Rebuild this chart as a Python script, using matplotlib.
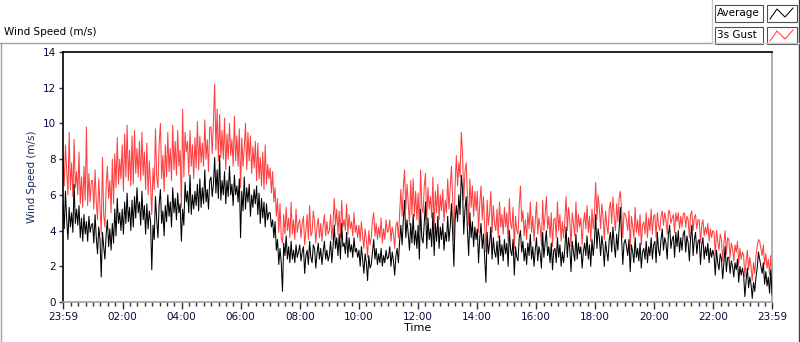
"""
Wind speed over one day: average and 3 s gust (LabVIEW style chart)
Output: out.png (800x342)
"""

import numpy as np
import matplotlib
matplotlib.use("Agg")
import matplotlib.pyplot as plt
import matplotlib.patches as patches
from matplotlib.lines import Line2D

# --- 1. DATA (m/s, one value every 2.5 minutes, 24 per hour) ---
average = [
    5.6, 4.1, 6.2, 4.6, 3.5, 5.3, 4.2, 5.0, 3.9, 6.6, 4.4, 5.2,
    4.3, 5.4, 3.6, 4.7, 3.4, 4.9, 3.8, 4.5, 3.4, 4.8, 3.9, 4.3,
    4.4, 3.3, 4.9, 3.6, 2.7, 4.2, 3.5, 1.4, 3.9, 3.1, 2.4, 3.8,
    4.6, 3.1, 4.1, 2.9, 4.4, 3.3, 5.2, 3.7, 5.8, 4.4, 5.0, 4.0,
    5.2, 3.8, 5.6, 4.4, 6.1, 4.5, 5.3, 4.0, 5.7, 4.2, 5.9, 4.7,
    6.4, 5.0, 5.6, 4.3, 6.2, 4.6, 5.4, 3.8, 5.5, 4.1, 5.1, 4.5,
    1.8, 4.3, 3.5, 5.9, 4.6, 3.6, 5.5, 6.3, 4.4, 5.1, 3.7, 5.4,
    4.5, 6.0, 4.8, 5.6, 4.2, 6.4, 5.0, 5.8, 4.6, 6.1, 5.0, 5.5,
    3.4, 5.2, 4.3, 6.7, 5.6, 6.2, 5.0, 7.1, 4.9, 6.0, 5.2, 6.2,
    5.4, 6.6, 5.1, 6.9, 5.3, 6.4, 5.5, 7.4, 5.6, 6.3, 5.2, 6.8,
    7.0, 5.9, 6.6, 8.1, 6.1, 7.4, 5.8, 8.2, 5.7, 6.8, 6.0, 7.3,
    5.5, 6.8, 5.9, 7.6, 6.0, 6.6, 5.4, 7.1, 6.0, 6.5, 5.6, 6.9,
    3.6, 6.2, 5.1, 7.0, 5.2, 6.4, 5.6, 6.6, 4.8, 6.0, 5.3, 6.3,
    5.5, 6.5, 4.9, 6.1, 4.4, 5.8, 4.7, 5.6, 4.2, 5.5, 4.6, 5.0,
    5.0, 4.2, 4.6, 3.6, 4.5, 2.9, 3.5, 2.1, 3.0, 2.2, 0.6, 3.3,
    2.6, 3.7, 2.4, 3.1, 2.2, 3.4, 2.4, 2.9, 2.2, 3.2, 2.5, 2.8,
    3.2, 2.3, 2.8, 3.1, 1.6, 2.6, 2.9, 2.1, 3.4, 2.5, 2.2, 3.2,
    3.0, 1.9, 2.7, 3.3, 2.4, 3.0, 2.1, 2.8, 3.4, 2.4, 2.9, 2.3,
    2.6, 3.4, 2.2, 3.1, 4.3, 3.0, 3.6, 2.6, 3.8, 2.4, 4.4, 3.1,
    3.3, 2.7, 3.9, 2.5, 3.6, 2.8, 3.2, 2.5, 3.6, 2.8, 3.0, 2.5,
    2.9, 2.0, 3.1, 2.4, 1.6, 2.7, 2.2, 1.2, 2.6, 1.9, 2.1, 2.8,
    3.5, 2.4, 3.0, 2.1, 2.7, 2.2, 3.0, 2.0, 2.6, 2.2, 2.9, 2.4,
    2.5, 3.1, 2.0, 2.8, 2.3, 1.5, 2.6, 3.0, 2.2, 3.4, 4.3, 3.2,
    4.6, 5.7, 3.6, 4.6, 3.8, 2.9, 4.4, 3.3, 4.9, 3.2, 4.0, 3.0,
    4.3, 2.4, 5.2, 3.6, 3.3, 4.5, 5.6, 3.0, 4.7, 3.5, 4.1, 3.1,
    5.0, 2.6, 4.4, 3.4, 4.8, 3.0, 4.2, 3.5, 4.4, 2.9, 3.9, 3.4,
    4.8, 3.4, 4.2, 5.5, 3.9, 2.0, 4.6, 5.4, 4.5, 6.0, 4.9, 7.1,
    6.3, 3.8, 5.2, 5.9, 4.0, 2.6, 5.0, 3.6, 4.5, 3.1, 4.2, 3.5,
    4.1, 2.2, 3.6, 4.4, 3.0, 3.8, 2.5, 1.1, 3.9, 2.7, 3.3, 4.2,
    2.4, 3.6, 2.8, 2.5, 3.4, 2.1, 3.7, 2.6, 3.2, 2.3, 3.5, 2.7,
    3.3, 2.0, 4.0, 2.9, 2.6, 3.5, 1.5, 3.1, 2.5, 2.3, 3.6, 4.0,
    2.8, 3.4, 2.3, 3.0, 2.1, 3.3, 2.6, 3.8, 2.4, 3.1, 2.0, 2.9,
    3.6, 2.3, 3.1, 2.7, 1.9, 3.9, 2.5, 3.3, 4.0, 2.6, 3.1, 2.2,
    3.3, 1.8, 2.9, 3.0, 2.2, 3.6, 2.5, 3.2, 2.0, 2.8, 2.2, 3.0,
    4.2, 2.5, 3.6, 3.0, 1.7, 3.4, 2.8, 2.3, 3.8, 2.4, 3.3, 2.7,
    3.1, 1.9, 2.8, 3.3, 2.6, 3.7, 2.4, 3.2, 2.0, 3.5, 2.6, 3.4,
    4.9, 3.0, 4.1, 3.6, 2.6, 3.7, 3.1, 2.0, 3.4, 2.8, 2.3, 3.5,
    3.9, 2.8, 4.2, 3.2, 2.5, 3.8, 2.9, 4.1, 5.3, 3.6, 2.1, 3.3,
    3.5, 3.1, 2.6, 3.5, 1.7, 3.2, 2.8, 2.2, 3.6, 2.5, 3.0, 2.3,
    3.3, 1.9, 2.8, 3.0, 2.4, 3.4, 2.2, 3.1, 2.6, 3.6, 2.4, 3.2,
    3.4, 2.2, 3.9, 2.9, 2.6, 3.5, 4.1, 2.9, 3.6, 3.3, 2.4, 3.8,
    4.3, 3.0, 3.5, 3.7, 2.5, 3.9, 3.1, 4.0, 2.8, 3.6, 2.9, 3.8,
    4.0, 2.8, 3.7, 3.3, 2.3, 3.6, 4.3, 2.6, 3.5, 3.9, 2.7, 3.4,
    3.5, 2.1, 3.2, 3.6, 2.4, 3.1, 2.6, 3.3, 2.2, 3.0, 2.5, 2.9,
    2.6, 1.5, 2.9, 2.2, 1.8, 2.7, 2.4, 1.3, 2.2, 3.1, 1.7, 2.5,
    2.5, 1.6, 2.3, 2.0, 1.4, 2.2, 1.8, 2.4, 1.1, 2.0, 1.5, 1.9,
    1.5, 0.3, 1.2, 1.9, 0.8, 1.4, 1.0, 0.2, 1.1, 0.6, 1.4, 1.9,
    2.8, 2.4, 2.0, 1.6, 2.2, 1.0, 1.7, 0.9, 1.4, 0.5, 1.8, 0.4,
]
gust = [
    8.2, 6.5, 8.8, 7.4, 6.0, 9.5, 6.3, 7.8, 5.9, 9.1, 6.4, 7.3,
    6.0, 8.4, 5.5, 7.0, 5.3, 7.6, 5.7, 9.8, 5.4, 7.2, 5.6, 6.8,
    6.8, 5.2, 7.4, 5.6, 4.6, 6.9, 5.3, 3.8, 8.1, 4.9, 4.2, 6.5,
    7.6, 5.8, 6.8, 5.0, 8.0, 5.5, 8.3, 6.4, 9.2, 6.6, 8.0, 6.9,
    8.8, 6.2, 9.4, 7.0, 9.9, 6.8, 8.5, 6.5, 9.3, 6.6, 9.6, 7.2,
    8.6, 7.0, 9.0, 6.8, 9.5, 7.1, 8.4, 6.3, 8.9, 6.0, 7.9, 6.6,
    4.9, 7.5, 6.3, 9.7, 7.0, 6.4, 8.9, 10.0, 6.9, 8.2, 6.2, 8.8,
    7.0, 9.5, 7.3, 8.6, 6.8, 9.9, 7.4, 9.0, 7.1, 9.6, 7.6, 8.5,
    5.3, 10.8, 7.0, 9.5, 8.4, 9.0, 7.1, 9.6, 7.6, 8.8, 6.9, 9.2,
    7.5, 10.1, 7.4, 9.3, 7.8, 8.9, 7.6, 10.2, 8.0, 9.1, 7.3, 9.8,
    9.8, 8.3, 10.1, 12.2, 8.5, 10.8, 7.9, 10.5, 8.1, 9.6, 8.0, 10.3,
    7.4, 9.4, 8.0, 10.0, 8.2, 9.1, 7.6, 10.4, 7.9, 9.3, 7.6, 9.7,
    6.4, 9.2, 7.6, 8.6, 10.0, 7.4, 9.5, 7.9, 9.3, 7.2, 8.7, 7.5,
    9.0, 6.8, 8.9, 6.9, 8.1, 6.5, 8.4, 6.3, 8.8, 6.6, 7.7, 6.9,
    7.5, 6.1, 7.3, 5.6, 6.4, 4.8, 5.8, 3.9, 5.5, 3.6, 3.3, 4.9,
    3.8, 5.3, 4.0, 4.7, 3.6, 5.6, 3.8, 4.6, 3.5, 5.2, 3.9, 4.4,
    4.6, 3.6, 4.4, 4.8, 3.2, 4.0, 4.9, 3.5, 5.4, 3.7, 3.9, 5.1,
    4.5, 3.3, 4.2, 4.7, 3.6, 4.4, 3.4, 4.3, 4.9, 3.7, 4.5, 3.8,
    4.0, 4.9, 3.5, 4.4, 5.8, 4.3, 5.2, 3.8, 5.1, 3.6, 5.7, 4.2,
    4.6, 4.0, 5.5, 3.8, 4.9, 4.1, 4.5, 3.7, 5.0, 3.9, 4.3, 3.6,
    4.3, 3.4, 4.5, 3.7, 3.0, 4.1, 3.5, 2.5, 4.0, 3.2, 3.6, 4.6,
    5.0, 3.7, 4.4, 3.5, 4.2, 3.6, 4.7, 3.3, 4.1, 3.5, 4.6, 3.9,
    4.0, 4.6, 3.4, 4.2, 3.8, 3.0, 4.3, 4.5, 3.6, 5.0, 6.3, 4.8,
    6.4, 7.4, 5.2, 6.6, 5.5, 4.3, 6.8, 4.9, 6.9, 4.8, 6.2, 4.6,
    6.1, 4.0, 7.4, 5.3, 5.0, 6.5, 7.2, 4.6, 6.4, 5.2, 5.9, 4.7,
    7.0, 4.1, 6.2, 5.0, 6.6, 4.6, 6.0, 5.1, 6.3, 4.5, 5.7, 5.0,
    6.9, 5.2, 6.4, 7.6, 5.8, 3.4, 6.6, 8.2, 6.5, 7.8, 7.0, 9.5,
    8.4, 5.7, 7.3, 7.8, 5.9, 4.3, 6.9, 5.3, 6.5, 4.8, 6.2, 5.1,
    6.2, 3.9, 5.5, 6.5, 4.6, 5.9, 4.2, 2.8, 5.7, 4.3, 5.0, 6.2,
    3.9, 5.4, 4.4, 4.0, 5.2, 3.6, 5.6, 4.2, 4.9, 3.8, 5.3, 4.2,
    5.0, 3.4, 5.8, 4.4, 4.1, 5.3, 3.0, 4.8, 4.0, 3.8, 5.4, 6.5,
    4.5, 5.1, 3.7, 4.6, 3.5, 5.0, 4.1, 5.6, 3.9, 4.8, 3.4, 4.5,
    5.6, 3.8, 4.7, 4.2, 3.2, 5.7, 4.0, 4.9, 5.9, 4.1, 4.8, 3.6,
    5.0, 3.1, 4.6, 4.7, 3.6, 5.6, 4.0, 4.9, 3.4, 4.5, 3.6, 4.6,
    5.9, 4.0, 5.3, 4.6, 3.1, 5.0, 4.4, 3.7, 5.6, 3.9, 4.9, 4.2,
    4.7, 3.2, 4.4, 5.0, 4.1, 5.4, 3.9, 4.8, 3.4, 5.2, 4.1, 5.0,
    6.7, 4.6, 6.0, 5.2, 4.1, 5.5, 4.7, 3.5, 5.1, 4.3, 3.8, 5.2,
    5.6, 4.4, 5.9, 4.8, 4.0, 5.5, 4.5, 5.8, 6.2, 5.2, 3.6, 5.0,
    4.9, 4.6, 4.0, 5.1, 3.0, 4.8, 4.2, 3.6, 5.3, 3.9, 4.6, 3.7,
    4.9, 3.2, 4.3, 4.5, 3.8, 5.0, 3.6, 4.7, 4.0, 5.2, 3.8, 4.8,
    4.9, 3.6, 5.0, 4.3, 4.0, 4.8, 5.1, 4.3, 5.0, 4.6, 3.8, 5.1,
    5.1, 4.4, 4.7, 4.9, 3.9, 5.0, 4.5, 5.0, 4.1, 4.8, 4.2, 4.9,
    5.0, 4.2, 4.8, 4.6, 3.6, 4.9, 5.1, 4.0, 4.7, 4.9, 4.1, 4.6,
    4.6, 3.3, 4.3, 4.6, 3.7, 4.2, 3.8, 4.4, 3.4, 4.1, 3.6, 4.0,
    3.9, 2.6, 4.0, 3.4, 2.9, 3.8, 3.5, 2.3, 3.3, 4.0, 2.7, 3.6,
    3.5, 2.5, 3.3, 3.0, 2.3, 3.2, 2.8, 3.4, 2.1, 3.0, 2.4, 2.8,
    2.6, 1.4, 2.3, 2.9, 1.8, 2.5, 2.0, 1.2, 2.2, 1.6, 2.6, 3.1,
    3.5, 3.4, 3.0, 2.6, 3.2, 2.1, 2.7, 1.9, 2.4, 1.5, 2.6, 1.3,
]
tick_hours = [-1 / 60, 2, 4, 6, 8, 10, 12, 14, 16, 18, 20, 22, 24 - 1 / 60]
tick_labels = ["23:59", "02:00", "04:00", "06:00", "08:00", "10:00", "12:00",
               "14:00", "16:00", "18:00", "20:00", "22:00", "23:59"]

# time axis in hours, 23:59 (previous day) to 23:59
hours_avg = np.linspace(tick_hours[0], tick_hours[-1], len(average))
hours_gust = np.linspace(tick_hours[0], tick_hours[-1], len(gust))
print(len(average), len(gust))

# --- 2. FIGURE ---
W, H = 800, 342
fig = plt.figure(figsize=(W / 100, H / 100), dpi=100)
fig.patch.set_facecolor("white")
plt.rcParams["font.family"] = "DejaVu Sans"


def fx(px):
    return px / W


def fy(py):
    return 1 - py / H


ax = fig.add_axes([fx(63), fy(302), fx(772) - fx(63), fy(52) - fy(302)])

ax.plot(hours_gust, gust, color="#ff4040", linewidth=0.75, zorder=2)
ax.plot(hours_avg, average, color="black", linewidth=0.75, zorder=3)

ax.set_xlim(tick_hours[0], tick_hours[-1])
ax.set_ylim(0, 14)
ax.set_yticks(range(0, 15, 2))
ax.set_xticks(tick_hours)
ax.set_xticklabels(tick_labels)
minor = [m / 4 for m in range(1, 96) if m % 8 != 0]
ax.set_xticks(minor, minor=True)

ax.tick_params(axis="both", which="major", labelsize=7.5, color="#303030", width=1,
               labelcolor="#0a0a3a")
ax.tick_params(axis="x", which="major", length=5, pad=2)
ax.tick_params(axis="x", which="minor", length=3, width=1, color="#303030")
ax.tick_params(axis="y", which="major", length=3, pad=2)

ax.spines["top"].set_color("black")
ax.spines["left"].set_color("black")
ax.spines["bottom"].set_color("#a0a0a0")
ax.spines["right"].set_color("#a0a0a0")
for s in ax.spines.values():
    s.set_linewidth(1.2)

ax.set_ylabel("Wind Speed (m/s)", fontsize=7.5, color="#1a2c5c", labelpad=4)
ax.set_xlabel("Time", fontsize=8, color="black", labelpad=1)

# --- 3. FRAME / TITLE ---
fig.text(fx(4), fy(32), "Wind Speed (m/s)", fontsize=7.5, color="black",
         ha="left", va="center")
fig.add_artist(Line2D([fx(0), fx(712)], [fy(42.5), fy(42.5)], color="#a0a0a0", lw=1))
fig.add_artist(Line2D([fx(0.5), fx(0.5)], [fy(42.5), fy(342)], color="#a0a0a0", lw=1))
fig.add_artist(Line2D([fx(799), fx(799)], [fy(0), fy(342)], color="#404040", lw=1))

# --- 4. LEGEND ---
fig.add_artist(Line2D([fx(712), fx(712)], [fy(0), fy(43)], color="#c8c8c8", lw=1))
fig.add_artist(Line2D([fx(712), fx(799)], [fy(43), fy(43)], color="#c8c8c8", lw=1))
rows = [("Average", "black", 5), ("3s Gust", "#ff4040", 27)]
for label, col, top in rows:
    for x0, x1 in [(715, 763), (767, 797)]:
        fig.add_artist(patches.Rectangle((fx(x0), fy(top + 17)), fx(x1 - x0), 17 / H,
                                         transform=fig.transFigure, facecolor="white",
                                         edgecolor="#505050", lw=0.8))
    fig.text(fx(717), fy(top + 8.5), label, fontsize=7.5, ha="left", va="center")
    zx = [770, 777, 785, 793]
    zy = [top + 14, top + 4, top + 12, top + 3]
    fig.add_artist(Line2D([fx(v) for v in zx], [fy(v) for v in zy], color=col, lw=0.75))

fig.savefig("out.png", dpi=100, facecolor="white")
